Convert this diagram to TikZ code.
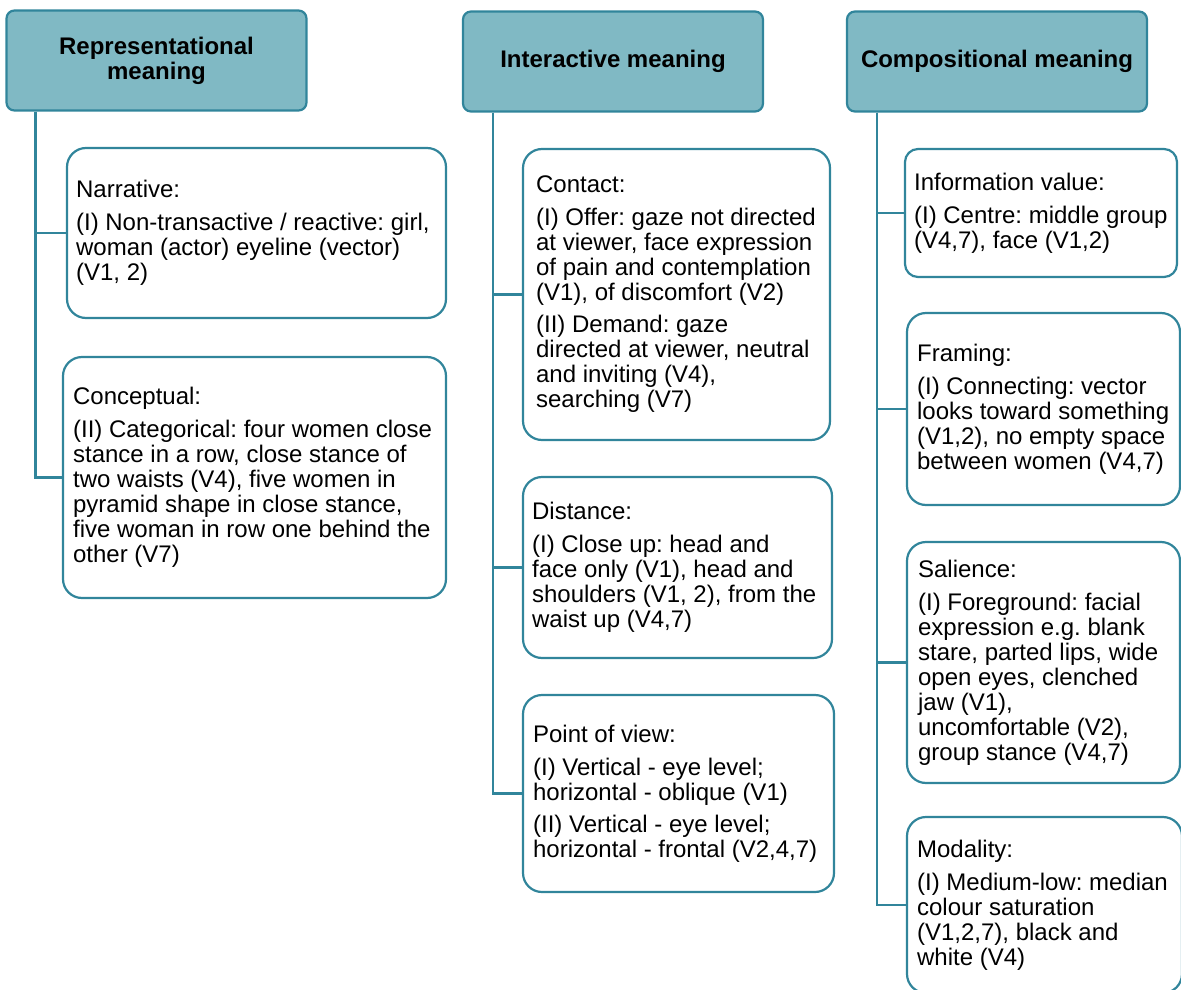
\documentclass[tikz,border=0pt]{standalone}
\usepackage{fontspec}
\setmainfont{Liberation Sans}
\usepackage{tikz}
\usetikzlibrary{positioning,calc}
\definecolor{edgeteal}{RGB}{49,133,155}
\definecolor{headfill}{RGB}{128,185,196}

\begin{document}
\begin{tikzpicture}[x=1pt,y=-1pt,
head/.style={draw=edgeteal,line width=2.2pt,fill=headfill,rounded corners=8pt,align=center,
  minimum width=300pt,minimum height=100pt,font=\fontsize{24}{25}\selectfont\bfseries},
child/.style={draw=edgeteal,line width=2.2pt,fill=white,rounded corners=19pt,inner sep=0pt},
txt/.style={anchor=west,align=left,inner sep=0pt,font=\fontsize{24}{25}\selectfont\frenchspacing},
link/.style={draw=edgeteal,line width=2.2pt}]
\useasboundingbox (0,0) rectangle (1181,990);
\clip (0,0) rectangle (1181,990);
% column headers
\node[head](rep) at (156.5,60.5){Representational\\meaning};
\node[head](inter) at (613,61.5){Interactive meaning};
\node[head](comp) at (997,61.5){Compositional meaning};
% representational
\node[child,minimum width=379pt,minimum height=170pt](narr) at (256.5,233){};
\node[txt](narrtxt) at ([xshift=10pt]narr.west){Narrative:\\[8pt]
(I) Non-transactive / reactive: girl,\\ woman (actor) eyeline (vector)\\ (V1, 2)};
\node[child,minimum width=383pt,minimum height=241pt](conc) at (254.5,477.5){};
\node[txt](conctxt) at ([xshift=11pt]conc.west){Conceptual:\\[8pt]
(II) Categorical: four women close\\ stance in a row, close stance of\\ two waists (V4), five women in\\
pyramid shape in close stance,\\ five woman in row one behind the\\ other (V7)};
% interactive
\node[child,minimum width=307pt,minimum height=291pt](cont) at (676.5,294.5){};
\node[txt](conttxt) at ([xshift=14pt]cont.west){Contact:\\[8pt]
(I) Offer: gaze not directed\\ at viewer, face expression\\ of pain and contemplation\\ (V1), of discomfort (V2)\\[7pt]
(II) Demand: gaze\\ directed at viewer, neutral\\ and inviting (V4),\\ searching (V7)};
\node[child,minimum width=309pt,minimum height=181pt](dist) at (677.5,567.5){};
\node[txt](disttxt) at ([xshift=10pt]dist.west){Distance:\\[8pt]
(I) Close up: head and\\ face only (V1), head and\\ shoulders (V1, 2), from the\\ waist up (V4,7)};
\node[child,minimum width=311pt,minimum height=197pt](pov) at (678.5,793.5){};
\node[txt](povtxt) at ([xshift=11pt]pov.west){Point of view:\\[8pt]
(I) Vertical - eye level;\\ horizontal - oblique (V1)\\[7pt]
(II) Vertical - eye level;\\ horizontal - frontal (V2,4,7)};
% compositional
\node[child,rounded corners=13pt,minimum width=272pt,minimum height=128pt](info) at (1041,213){};
\node[txt](infotxt) at ([xshift=10pt]info.west){Information value:\\[8pt]
(I) Centre: middle group\\ (V4,7), face (V1,2)};
\node[child,minimum width=273pt,minimum height=192pt](fram) at (1043.5,409){};
\node[txt](framtxt) at ([xshift=11pt]fram.west){Framing:\\[8pt]
(I) Connecting: vector\\ looks toward something\\ (V1,2), no empty space\\ between women (V4,7)};
\node[child,minimum width=273pt,minimum height=241pt](sal) at (1043.5,662.5){};
\node[txt](saltxt) at ([xshift=12pt]sal.west){Salience:\\[8pt]
(I) Foreground: facial\\ expression e.g. blank\\ stare, parted lips, wide\\ open eyes, clenched\\
jaw (V1),\\ uncomfortable (V2),\\ group stance (V4,7)};
\node[child,minimum width=275pt,minimum height=176pt](mod) at (1044.5,905){};
\node[txt](modtxt) at ([xshift=11pt]mod.west){Modality:\\[8pt]
(I) Medium-low: median\\ colour saturation\\ (V1,2,7), black and\\ white (V4)};
% connectors
\foreach \k in {narr,conc} \draw[link]([xshift=30pt]rep.south west)|-(\k.west);
\foreach \k in {cont,dist,pov} \draw[link]([xshift=31pt]inter.south west)|-(\k.west);
\foreach \k in {info,fram,sal,mod} \draw[link]([xshift=31pt]comp.south west)|-(\k.west);
\end{tikzpicture}
\end{document}
